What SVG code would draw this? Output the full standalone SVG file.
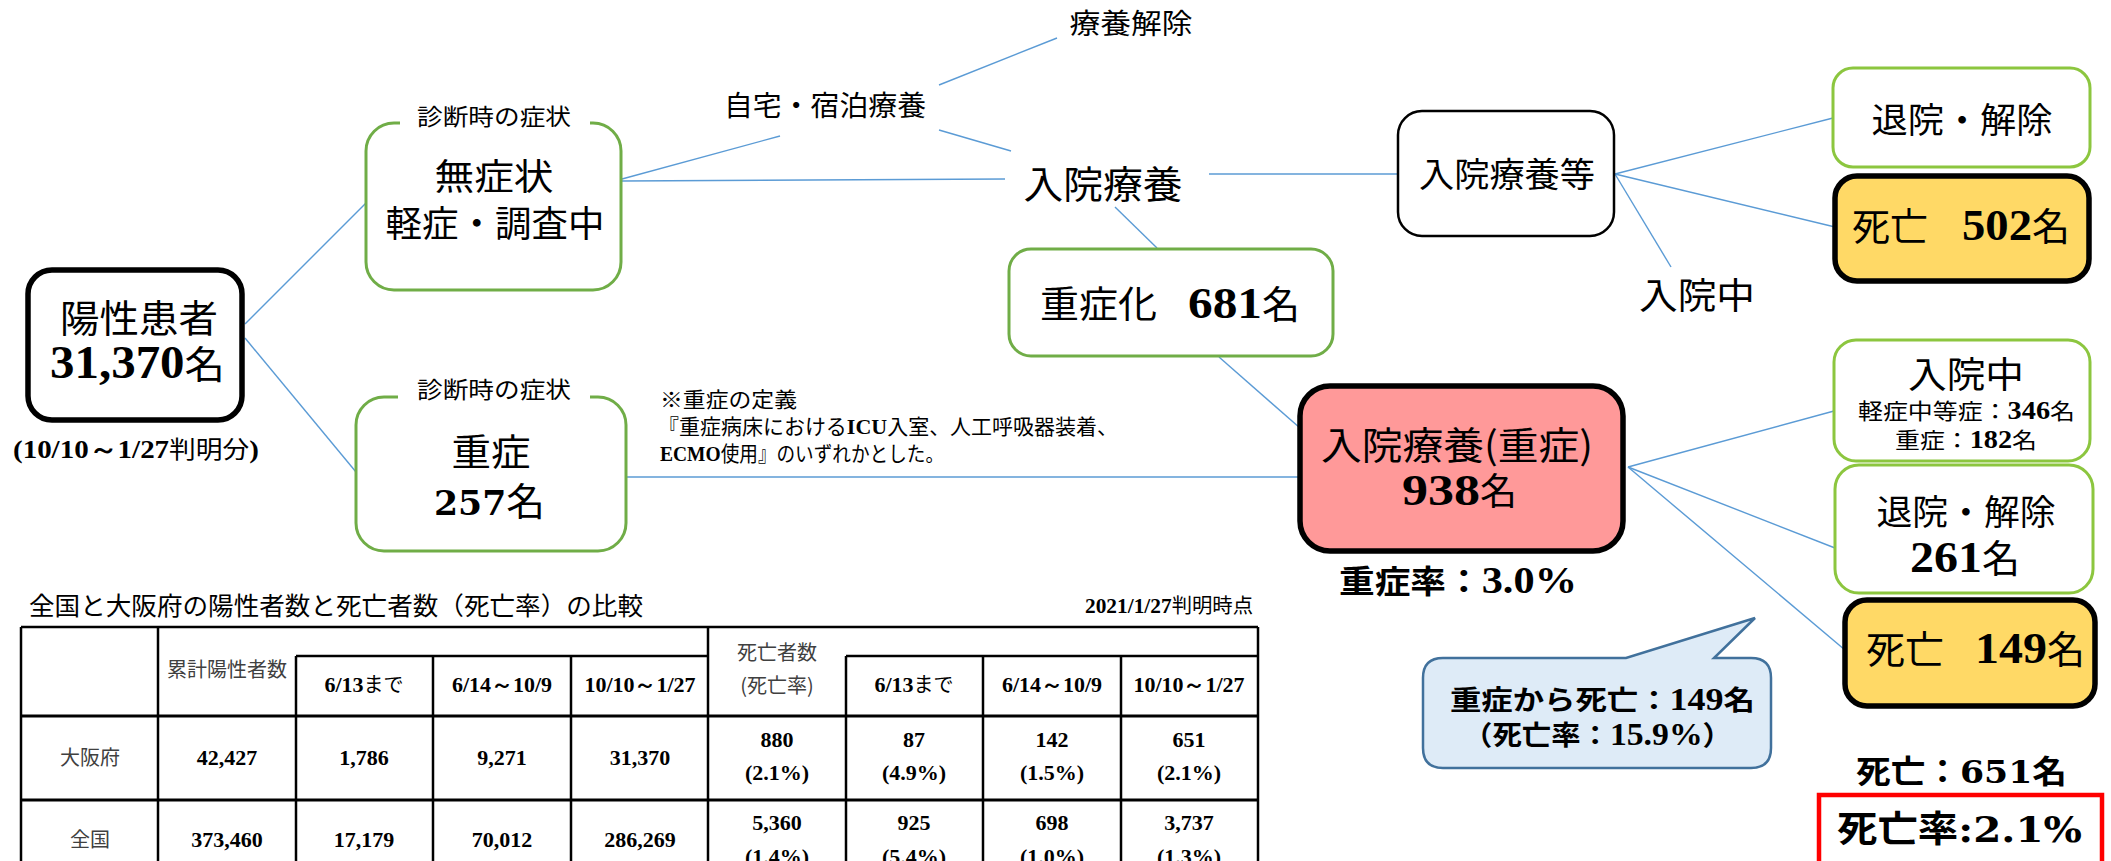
<svg xmlns="http://www.w3.org/2000/svg" width="2111" height="861" viewBox="0 0 2111 861">
<style>
.c{stroke:#5B9BD5;stroke-width:1.4;fill:none}
.jp{font-family:'Noto Sans CJK JP','Noto Sans CJK SC',sans-serif;fill:#000}
.num{font-family:'Liberation Serif',serif;font-weight:bold;fill:#000}
.wnum{font-family:'DejaVu Serif','Liberation Serif',serif;font-weight:bold;fill:#000}
.b{font-weight:bold}
.g{fill:#fff;stroke:#70AD47;stroke-width:3}
.g2{fill:#fff;stroke:#8CC63F;stroke-width:3}
.k{fill:#fff;stroke:#000;stroke-width:2.5}
.kk{stroke:#000;stroke-width:5.5}
.tl{stroke:#000;stroke-width:2.5;fill:none}
.tl2{stroke:#000;stroke-width:3;fill:none}
.gray{fill:#404040}
</style>

<g id="connectors" class="c">
<line x1="245" y1="324" x2="366" y2="203"/>
<line x1="245" y1="338" x2="356" y2="472"/>
<line x1="622" y1="179" x2="780" y2="136"/>
<line x1="622" y1="181" x2="1005" y2="179"/>
<line x1="939" y1="85" x2="1057" y2="38"/>
<line x1="939" y1="130" x2="1011" y2="151"/>
<line x1="1115" y1="207" x2="1157" y2="248"/>
<line x1="1209" y1="174" x2="1398" y2="174"/>
<line x1="1219" y1="357" x2="1300" y2="428"/>
<line x1="627" y1="477" x2="1300" y2="477"/>
<line x1="1615" y1="174" x2="1833" y2="118"/>
<line x1="1615" y1="174" x2="1835" y2="227"/>
<line x1="1615" y1="174" x2="1671" y2="267"/>
<line x1="1628" y1="467" x2="1834" y2="411"/>
<line x1="1628" y1="467" x2="1835" y2="548"/>
<line x1="1628" y1="467" x2="1845" y2="650"/>
</g>

<g id="positive">
<rect x="28" y="270" width="214" height="150" rx="24" class="kk" fill="#fff"/>
<text x="139" y="332" text-anchor="middle" font-size="38" class="jp" textLength="158" lengthAdjust="spacingAndGlyphs">陽性患者</text>
<text x="50" y="378" textLength="175" lengthAdjust="spacingAndGlyphs"><tspan class="num" font-size="46">31,370</tspan><tspan class="jp" font-size="38">名</tspan></text>
<text x="13" y="458" textLength="246" lengthAdjust="spacingAndGlyphs"><tspan class="num" font-size="26">(10/10～1/27</tspan><tspan class="jp" font-size="24">判明分</tspan><tspan class="num" font-size="26">)</tspan></text>
</g>

<g id="mild">
<rect x="366" y="123" width="255" height="167" rx="28" class="g"/>
<rect x="400" y="110" width="190" height="24" fill="#fff"/>
<text x="494" y="125" text-anchor="middle" font-size="23" class="jp" textLength="154" lengthAdjust="spacingAndGlyphs">診断時の症状</text>
<text x="494" y="190" text-anchor="middle" font-size="36" class="jp" textLength="119" lengthAdjust="spacingAndGlyphs">無症状</text>
<text x="495" y="237" text-anchor="middle" font-size="36" class="jp" textLength="219" lengthAdjust="spacingAndGlyphs">軽症・調査中</text>
</g>

<g id="severe">
<rect x="356" y="397" width="270" height="154" rx="28" class="g"/>
<rect x="398" y="385" width="192" height="24" fill="#fff"/>
<text x="494" y="398" text-anchor="middle" font-size="23" class="jp" textLength="154" lengthAdjust="spacingAndGlyphs">診断時の症状</text>
<text x="491" y="466" text-anchor="middle" font-size="37" class="jp" textLength="79" lengthAdjust="spacingAndGlyphs">重症</text>
<text x="434" y="515" textLength="111" lengthAdjust="spacingAndGlyphs"><tspan class="wnum" font-size="34">257</tspan><tspan class="jp" font-size="38">名</tspan></text>
</g>

<g id="home">
<text x="825" y="116" text-anchor="middle" font-size="28" class="jp" textLength="202" lengthAdjust="spacingAndGlyphs">自宅・宿泊療養</text>
</g>
<g id="release">
<text x="1131" y="34" text-anchor="middle" font-size="28" class="jp" textLength="123" lengthAdjust="spacingAndGlyphs">療養解除</text>
</g>
<g id="hospital">
<text x="1103" y="198" text-anchor="middle" font-size="38" class="jp" textLength="159" lengthAdjust="spacingAndGlyphs">入院療養</text>
</g>

<g id="worsened">
<rect x="1009" y="249" width="324" height="107" rx="22" class="g"/>
<text x="1040" y="318" font-size="37" class="jp" textLength="117" lengthAdjust="spacingAndGlyphs">重症化</text>
<text x="1188" y="318" font-size="44" class="num" textLength="74" lengthAdjust="spacingAndGlyphs">681</text>
<text x="1262" y="318" font-size="38" class="jp">名</text>
</g>

<g id="hospital-etc">
<rect x="1398" y="111" width="216" height="125" rx="24" class="k"/>
<text x="1507" y="187" text-anchor="middle" font-size="34" class="jp" textLength="176" lengthAdjust="spacingAndGlyphs">入院療養等</text>
</g>

<g id="inpatient-label">
<text x="1697" y="309" text-anchor="middle" font-size="36" class="jp" textLength="116" lengthAdjust="spacingAndGlyphs">入院中</text>
</g>

<g id="discharged-1">
<rect x="1833" y="68" width="257" height="99" rx="20" class="g2"/>
<text x="1962" y="133" text-anchor="middle" font-size="35" class="jp" textLength="181" lengthAdjust="spacingAndGlyphs">退院・解除</text>
</g>

<g id="death-502">
<rect x="1835" y="176" width="254" height="105" rx="22" class="kk" fill="#FFD966"/>
<text x="1852" y="240" font-size="38" class="jp" textLength="76" lengthAdjust="spacingAndGlyphs">死亡</text>
<text x="1962" y="240" font-size="44" class="num" textLength="70" lengthAdjust="spacingAndGlyphs">502</text>
<text x="2032" y="240" font-size="38" class="jp">名</text>
</g>

<g id="severe-hospital">
<rect x="1300" y="386" width="323" height="165" rx="30" class="kk" fill="#FF9999"/>
<text x="1457" y="459" text-anchor="middle" font-size="38" class="jp" textLength="272" lengthAdjust="spacingAndGlyphs">入院療養(重症)</text>
<text x="1402" y="505" font-size="44" class="num" textLength="78" lengthAdjust="spacingAndGlyphs">938</text>
<text x="1480" y="505" font-size="37" class="jp">名</text>
<text x="1339" y="593" textLength="238" lengthAdjust="spacingAndGlyphs"><tspan class="jp b" font-size="32">重症率：</tspan><tspan class="num" font-size="38">3.0%</tspan></text>
</g>

<g id="inpatient-box">
<rect x="1834" y="340" width="256" height="121" rx="22" class="g2"/>
<text x="1966" y="388" text-anchor="middle" font-size="36" class="jp" textLength="116" lengthAdjust="spacingAndGlyphs">入院中</text>
<text x="1858" y="419" textLength="217" lengthAdjust="spacingAndGlyphs"><tspan class="jp" font-size="22">軽症中等症：</tspan><tspan class="num" font-size="25">346</tspan><tspan class="jp" font-size="22">名</tspan></text>
<text x="1895" y="448" textLength="142" lengthAdjust="spacingAndGlyphs"><tspan class="jp" font-size="22">重症：</tspan><tspan class="num" font-size="25">182</tspan><tspan class="jp" font-size="22">名</tspan></text>
</g>

<g id="discharged-2">
<rect x="1835" y="465" width="258" height="128" rx="24" class="g2"/>
<text x="1966" y="525" text-anchor="middle" font-size="35" class="jp" textLength="179" lengthAdjust="spacingAndGlyphs">退院・解除</text>
<text x="1910" y="572" font-size="44" class="num" textLength="72" lengthAdjust="spacingAndGlyphs">261</text>
<text x="1982" y="572" font-size="38" class="jp">名</text>
</g>

<g id="death-149">
<rect x="1845" y="600" width="250" height="106" rx="22" class="kk" fill="#FFD966"/>
<text x="1866" y="663" font-size="38" class="jp" textLength="78" lengthAdjust="spacingAndGlyphs">死亡</text>
<text x="1975" y="663" font-size="44" class="num" textLength="72" lengthAdjust="spacingAndGlyphs">149</text>
<text x="2047" y="663" font-size="38" class="jp">名</text>
</g>

<g id="callout">
<path d="M1443,658 L1626,658 L1755,618 L1714,658 L1751,658 Q1771,658 1771,678 L1771,748 Q1771,768 1751,768 L1443,768 Q1423,768 1423,748 L1423,678 Q1423,658 1443,658 Z" fill="#DEEBF7" stroke="#41719C" stroke-width="2.5"/>
<text x="1450" y="710" textLength="305" lengthAdjust="spacingAndGlyphs"><tspan class="jp b" font-size="27">重症から死亡：</tspan><tspan class="num" font-size="31">149</tspan><tspan class="jp b" font-size="27">名</tspan></text>
<text x="1463" y="745" textLength="269" lengthAdjust="spacingAndGlyphs"><tspan class="jp b" font-size="27">（死亡率：</tspan><tspan class="num" font-size="31">15.9%</tspan><tspan class="jp b" font-size="27">）</tspan></text>
</g>

<g id="total-death">
<text x="1856" y="783" textLength="211" lengthAdjust="spacingAndGlyphs"><tspan class="jp b" font-size="32">死亡：</tspan><tspan class="wnum" font-size="32">651</tspan><tspan class="jp b" font-size="32">名</tspan></text>
<rect x="1819" y="795" width="283" height="80" fill="none" stroke="#FF0000" stroke-width="4.5"/>
<text x="1837" y="842" textLength="245" lengthAdjust="spacingAndGlyphs"><tspan class="jp b" font-size="36">死亡率</tspan><tspan class="wnum" font-size="36">:2.1%</tspan></text>
</g>

<g id="definition">
<text x="660" y="407" font-size="21" class="jp" textLength="137" lengthAdjust="spacingAndGlyphs">※重症の定義</text>
<text x="658" y="434" textLength="460" lengthAdjust="spacingAndGlyphs"><tspan class="jp" font-size="21">『重症病床における</tspan><tspan class="num" font-size="22">ICU</tspan><tspan class="jp" font-size="21">入室、人工呼吸器装着、</tspan></text>
<text x="660" y="461" textLength="284" lengthAdjust="spacingAndGlyphs"><tspan class="num" font-size="22">ECMO</tspan><tspan class="jp" font-size="21">使用』のいずれかとした。</tspan></text>
</g>

<g id="table">
<text x="29" y="615" font-size="25" class="jp" textLength="614" lengthAdjust="spacingAndGlyphs">全国と大阪府の陽性者数と死亡者数（死亡率）の比較</text>
<text x="1085" y="613" textLength="168" lengthAdjust="spacingAndGlyphs"><tspan class="num" font-size="21">2021/1/27</tspan><tspan class="jp" font-size="20">判明時点</tspan></text>
<line x1="21" y1="627" x2="1258" y2="627" class="tl"/>
<line x1="296" y1="656" x2="708" y2="656" class="tl"/>
<line x1="846" y1="656" x2="1258" y2="656" class="tl"/>
<line x1="21" y1="716" x2="1258" y2="716" class="tl2"/>
<line x1="21" y1="800" x2="1258" y2="800" class="tl2"/>
<line x1="21" y1="627" x2="21" y2="861" class="tl"/>
<line x1="158" y1="627" x2="158" y2="861" class="tl"/>
<line x1="296" y1="656" x2="296" y2="861" class="tl"/>
<line x1="433" y1="656" x2="433" y2="861" class="tl"/>
<line x1="571" y1="656" x2="571" y2="861" class="tl"/>
<line x1="708" y1="627" x2="708" y2="861" class="tl"/>
<line x1="846" y1="656" x2="846" y2="861" class="tl"/>
<line x1="983" y1="656" x2="983" y2="861" class="tl"/>
<line x1="1121" y1="656" x2="1121" y2="861" class="tl"/>
<line x1="1258" y1="627" x2="1258" y2="861" class="tl"/>
<g class="jp gray" font-size="20" text-anchor="middle">
<text x="227" y="677">累計陽性者数</text>
<text x="777" y="660">死亡者数</text>
<text x="777" y="693">(死亡率)</text>
<text x="90" y="765">大阪府</text>
<text x="90" y="847">全国</text>
</g>
<g font-size="22" text-anchor="middle">
<text x="364" y="692"><tspan class="num">6/13</tspan><tspan class="jp" font-size="20">まで</tspan></text>
<text x="502" y="692" class="num">6/14～10/9</text>
<text x="640" y="692" class="num">10/10～1/27</text>
<text x="914" y="692"><tspan class="num">6/13</tspan><tspan class="jp" font-size="20">まで</tspan></text>
<text x="1052" y="692" class="num">6/14～10/9</text>
<text x="1189" y="692" class="num">10/10～1/27</text>
</g>
<g class="num" font-size="22" text-anchor="middle">
<text x="227" y="765">42,427</text>
<text x="364" y="765">1,786</text>
<text x="502" y="765">9,271</text>
<text x="640" y="765">31,370</text>
<text x="777" y="747">880</text><text x="777" y="780">(2.1%)</text>
<text x="914" y="747">87</text><text x="914" y="780">(4.9%)</text>
<text x="1052" y="747">142</text><text x="1052" y="780">(1.5%)</text>
<text x="1189" y="747">651</text><text x="1189" y="780">(2.1%)</text>
<text x="227" y="847">373,460</text>
<text x="364" y="847">17,179</text>
<text x="502" y="847">70,012</text>
<text x="640" y="847">286,269</text>
<text x="777" y="830">5,360</text><text x="777" y="864">(1.4%)</text>
<text x="914" y="830">925</text><text x="914" y="864">(5.4%)</text>
<text x="1052" y="830">698</text><text x="1052" y="864">(1.0%)</text>
<text x="1189" y="830">3,737</text><text x="1189" y="864">(1.3%)</text>
</g>
</g>
</svg>
